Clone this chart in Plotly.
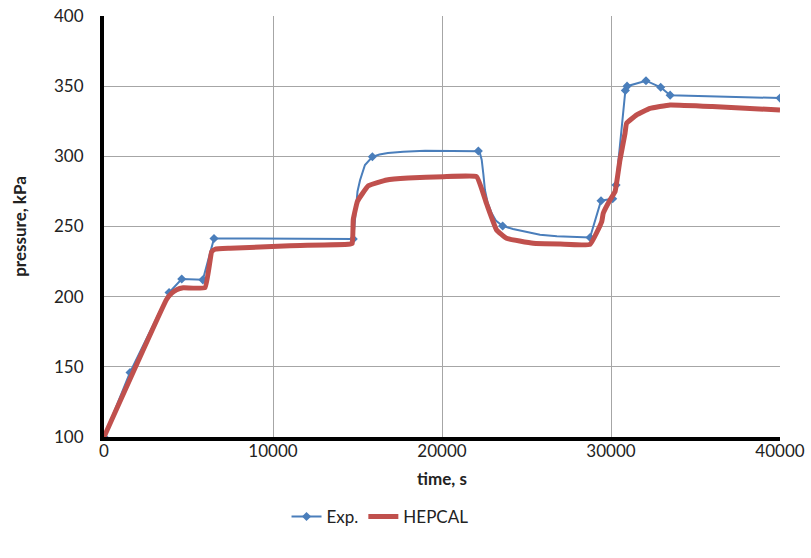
import plotly.graph_objects as go

# Experimental measurements (markers)
exp_t = [0, 1540, 3850, 4600, 5850, 6510, 14750, 15880, 22150, 23590, 28760,
         29410, 30100, 30300, 30850, 30950, 32070, 32940, 33500, 40000]
exp_p = [100, 146, 203, 212.6, 212, 241.5, 241.1, 299.7, 303.8, 250.4, 242.2,
         268.4, 269.8, 279.6, 347, 350, 353.9, 349.2, 343.6, 341.5]

exp_line_t = [0, 1540, 3850, 4600, 5850, 6510, 14750, 14820, 14890, 15000, 15150,
              15440, 15880, 16300, 16800, 17710, 19000, 20080, 21200, 22150, 22250,
              22350, 22450, 22540, 22700, 22940, 23200, 23590, 24200, 24910, 25800,
              26800, 27800, 28760, 29410, 30100, 30300, 30850, 30950,
              32070, 32940, 33500, 40000]
exp_line_p = [100, 146, 203, 212.6, 212, 241.5, 241.1, 252, 264, 275, 283,
              293.8, 299.7, 301.3, 302.4, 303.3, 304, 304, 303.8, 303.6, 302,
              297.4, 287, 276, 267, 259.4, 254, 250.4, 248.2, 246.5, 244.2,
              243.1, 242.5, 242.2, 268.4, 269.8, 279.6, 347, 350,
              353.9, 349.2, 343.6, 341.5]

# HEPCAL calculation
hep_t = [0, 3700, 4000, 4300, 4690, 5980, 6370, 6570, 7460, 11000, 14450, 14690,
         14750, 15000, 15640, 16730, 18000, 20080, 22050, 22630, 23230, 23820,
         25400, 27000, 28760, 29450, 29540, 29940, 30240, 30530, 30830, 30920,
         31520, 32310, 33490, 36000, 40000]
hep_p = [100, 198, 202.4, 205, 206.3, 206.5, 232, 233.8, 234.5, 236.3, 237.3, 238,
         255, 268, 279, 283.1, 284.5, 285.5, 285.5, 266.5, 247.5, 241.6,
         238, 237.5, 237.3, 253.4, 259.4, 268.9, 274.8, 297.4, 316.4, 323.5,
         329.5, 334.2, 336.6, 335.5, 333]

x_ticks = [0, 10000, 20000, 30000, 40000]
y_ticks = [100, 150, 200, 250, 300, 350, 400]

FONT = "Lato, 'Open Sans', sans-serif"
BLUE = "#4A7EBB"
RED = "#C0504D"

fig = go.Figure()
fig.add_trace(go.Scatter(
    x=exp_line_t, y=exp_line_p, mode="lines", showlegend=False, hoverinfo="skip",
    line=dict(color=BLUE, width=2),
))
fig.add_trace(go.Scatter(
    x=exp_t, y=exp_p, mode="markers", showlegend=False,
    marker=dict(symbol="diamond", size=7, color=BLUE),
))
fig.add_trace(go.Scatter(
    x=hep_t, y=hep_p, name="HEPCAL", mode="lines",
    line=dict(color=RED, width=5, shape="spline", smoothing=0.3),
))
# legend entry for the experimental series
fig.add_trace(go.Scatter(
    x=[None], y=[None], name="Exp.", mode="lines+markers",
    line=dict(color=BLUE, width=2),
    marker=dict(symbol="diamond", size=7, color=BLUE),
))

fig.update_layout(
    width=811, height=558,
    margin=dict(l=104, r=31, t=16, b=121, autoexpand=False),
    paper_bgcolor="white", plot_bgcolor="white",
    font=dict(family=FONT, size=17, color="#222"),
    legend=dict(orientation="h", x=0.27, xanchor="left", y=-0.19, yanchor="middle",
                font=dict(size=17), traceorder="reversed", tracegroupgap=0),
)
fig.update_xaxes(
    range=[0, 40000], tickvals=x_ticks, ticktext=[str(v) for v in x_ticks],
    showgrid=True, gridcolor="#A6A6A6", gridwidth=1,
    showline=True, linecolor="black", linewidth=4,
    zeroline=False, ticks="", ticklabelstandoff=-4, automargin=False,
    title=dict(text="<b>time, s</b>", font=dict(size=17), standoff=14),
)
fig.update_yaxes(
    range=[100, 400], tickvals=y_ticks, ticktext=[str(v) for v in y_ticks],
    showgrid=True, gridcolor="#A6A6A6", gridwidth=1,
    showline=True, linecolor="black", linewidth=4,
    zeroline=False, ticks="", ticklabelstandoff=13, automargin=False,
    title=dict(text="<b>pressure, kPa</b>", font=dict(size=17), standoff=24),
)

fig.write_html("out.html")
